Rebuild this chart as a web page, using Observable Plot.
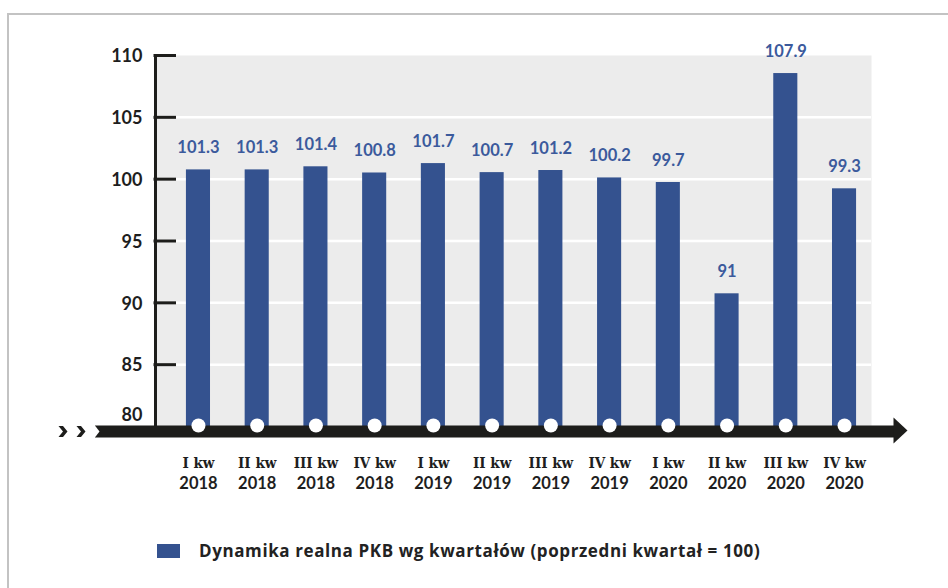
<!DOCTYPE html>
<html>
<head>
<meta charset="utf-8">
<script src="https://cdn.jsdelivr.net/npm/d3@7"></script>
<script src="https://cdn.jsdelivr.net/npm/@observablehq/plot@0.6"></script>
<style>
  html, body { margin: 0; padding: 0; background: #fff; overflow: hidden; }
  #wrap { position: relative; width: 948px; height: 588px; }
  #chart { position: absolute; left: 0; top: 0; }
  #border { position: absolute; left: 7px; top: 13px; width: 1000px; height: 1000px;
            border-top: 2px solid #c3c3c3; border-left: 2px solid #c3c3c3; z-index: 2; pointer-events: none; }
  #legend { position: absolute; left: 157px; top: 539px; display: flex; align-items: center;
            font-family: "Open Sans", Lato, sans-serif; font-weight: 700; font-size: 17px; letter-spacing: 0.6px; color: #222; }
  #legend .sw { width: 23px; height: 14px; background: #34528f; margin-right: 19px; }
</style>
</head>
<body>
<div id="wrap">
  <div id="chart"></div>
  <div id="border"></div>
  <div id="legend"><div class="sw"></div><span>Dynamika realna PKB wg kwartałów (poprzedni kwartał = 100)</span></div>
</div>
<script>
// ---- data ----
const quarters = ["I kw", "II kw", "III kw", "IV kw", "I kw", "II kw", "III kw", "IV kw", "I kw", "II kw", "III kw", "IV kw"];
const years = ["2018", "2018", "2018", "2018", "2019", "2019", "2019", "2019", "2020", "2020", "2020", "2020"];
const valueLabels = ["101.3", "101.3", "101.4", "100.8", "101.7", "100.7", "101.2", "100.2", "99.7", "91", "107.9", "99.3"];
// bar heights as drawn in the picture
const barHeights = [100.75, 100.75, 101.0, 100.5, 101.26, 100.53, 100.7, 100.1, 99.73, 90.73, 108.54, 99.22];
const yTicks = [85, 90, 95, 100, 105, 110];
const yBase = 80;
const gridValues = [85, 90, 95, 100, 105];

const data = quarters.map((q, i) => ({
  key: q + " " + years[i],
  q, year: years[i], label: valueLabels[i], bar: barHeights[i]
}));

const BLUE = "#34528f";
const LABEL_BLUE = "#3b5a9c";
const BLACK = "#1d1d1b";

const arrowHead = { draw(ctx) { ctx.moveTo(0, -13); ctx.lineTo(14, 0); ctx.lineTo(0, 13); ctx.closePath(); } };
const chevrons = { draw(ctx) {
  for (const o of [0, 18]) {
    ctx.moveTo(o, -5.5); ctx.lineTo(o + 4.5, -5.5); ctx.lineTo(o + 9, 0);
    ctx.lineTo(o + 4.5, 5.5); ctx.lineTo(o, 5.5); ctx.lineTo(o + 4.5, 0); ctx.closePath();
  }
} };
const notch = { draw(ctx) { ctx.moveTo(-1, -6.5); ctx.lineTo(4, 0); ctx.lineTo(-1, 6.5); ctx.closePath(); } };

const plot = Plot.plot({
  width: 948,
  height: 500,
  marginTop: 55,
  marginBottom: 74,
  marginLeft: 155,
  marginRight: 77,
  style: { fontFamily: "Lato, 'Open Sans', sans-serif", background: "transparent", overflow: "visible" },
  x: { type: "band", domain: data.map(d => d.key), range: [168.6, 873.4], paddingInner: 0.59, paddingOuter: 0.295, round: false, axis: null },
  y: { domain: [80, 110], axis: null },
  marks: [
    Plot.frame({ fill: "#ececec", stroke: null }),
    Plot.ruleY(gridValues, { stroke: "#fff", strokeWidth: 2.5 }),
    Plot.barY(data, { x: "key", y1: yBase, y2: "bar", fill: BLUE }),
    Plot.text(data, { x: "key", y: "bar", text: "label", dy: -22, fill: LABEL_BLUE, fontWeight: 700, fontSize: 16.5, lineAnchor: "middle" }),
    // y axis line and inward ticks
    Plot.frame({ anchor: "left", stroke: BLACK, strokeWidth: 3 }),
    Plot.ruleY(yTicks, { stroke: BLACK, strokeWidth: 3, insetLeft: -1.5, insetRight: 695 }),
    Plot.text(yTicks, { y: d => d, text: d => String(d), frameAnchor: "left", textAnchor: "end", dx: -13, dy: 1, fill: "#1e1e1e", fontWeight: 700, fontSize: 18, lineAnchor: "middle" }),
    Plot.text([yBase], { y: d => d, text: d => String(d), frameAnchor: "left", textAnchor: "end", dx: -13, dy: -11, fill: "#1e1e1e", fontWeight: 700, fontSize: 18, lineAnchor: "middle" }),
    // baseline arrow
    Plot.ruleY([yBase], { stroke: BLACK, strokeWidth: 12, dy: 5, insetLeft: -60, insetRight: -24 }),
    Plot.dot([yBase], { y: d => d, frameAnchor: "right", dx: 22, dy: 4, symbol: arrowHead, fill: BLACK, stroke: null }),
    Plot.dot([yBase], { y: d => d, frameAnchor: "left", dx: -60, dy: 5, symbol: notch, fill: "#fff", stroke: null }),
    Plot.dot([yBase], { y: d => d, frameAnchor: "left", dx: -97, dy: 5, symbol: chevrons, fill: BLACK, stroke: null }),
    Plot.dot(data, { x: "key", y: yBase, r: 7, dy: -1, fill: "#fff", stroke: null }),
    // x labels
    Plot.text(data, { x: "key", text: "q", frameAnchor: "bottom", dy: 37, fill: "#1e1e1e", fontWeight: 700, fontSize: 15, fontFamily: "'DejaVu Serif Condensed', 'DejaVu Serif', serif", lineAnchor: "middle" }),
    Plot.text(data, { x: "key", text: "year", frameAnchor: "bottom", dy: 57, fill: "#1e1e1e", fontWeight: 700, fontSize: 16.5, lineAnchor: "middle" })
  ]
});
document.getElementById("chart").appendChild(plot);
</script>
</body>
</html>
